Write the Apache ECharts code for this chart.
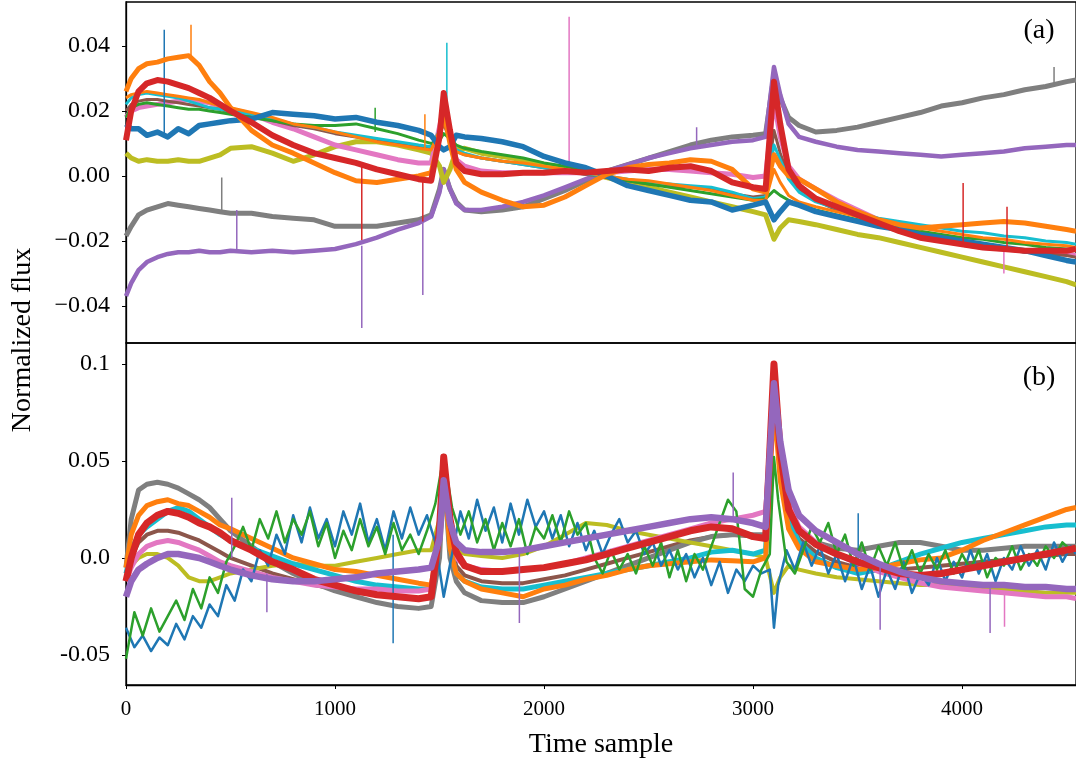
<!DOCTYPE html>
<html><head><meta charset="utf-8">
<script src="https://cdn.jsdelivr.net/npm/echarts@6/dist/echarts.min.js"></script>
<style>html,body{margin:0;padding:0;background:#fff}#c{width:1076px;height:761px}</style>
</head><body><div id="c"></div>
<script>
// shared time-sample grid (x values)
const X = [0,25,60,100,150,200,250,300,350,400,
450,500,600,700,800,900,1000,1100,1200,1300,
1400,1460,1500,1520,1550,1580,1620,1700,1800,1900,
2000,2100,2200,2300,2400,2500,2600,2700,2800,2900,
3000,3060,3100,3130,3170,3220,3300,3400,3500,3600,
3700,3800,3900,4000,4100,4200,4300,4400,4500,4545];
// finer grid used for the two noisiest traces of panel (b)
const XF = [0,40,80,120,160,200,240,280,320,360,
400,440,480,520,560,600,640,680,720,760,
800,840,880,920,960,1000,1040,1080,1120,1160,
1200,1240,1280,1320,1360,1400,1440,1480,1520,1560,
1600,1640,1680,1720,1760,1800,1840,1880,1920,1960,
2000,2040,2080,2120,2160,2200,2240,2280,2320,2360,
2400,2440,2480,2520,2560,2600,2640,2680,2720,2760,
2800,2840,2880,2920,2960,3000,3040,3080,3100,3120,
3160,3200,3240,3280,3320,3360,3400,3440,3480,3520,
3560,3600,3640,3680,3720,3760,3800,3840,3880,3920,
3960,4000,4040,4080,4120,4160,4200,4240,4280,4320,
4360,4400,4440,4480,4520,4545];

const xTicks = [0,1000,2000,3000,4000];
const xTickLabels = ['0','1000','2000','3000','4000'];
const yTicksA = [-0.04,-0.02,0,0.02,0.04];
const yTickLabelsA = ['\u22120.04','\u22120.02','0.00','0.02','0.04'];
const yTicksB = [-0.05,0,0.05,0.1];
const yTickLabelsB = ['-0.05','0.0','0.05','0.1'];

// ---- panel (a) ----
const a_gray = [-0.0185,-0.0155,-0.012,-0.0105,-0.0095,-0.0085,-0.009,-0.0095,-0.01,-0.0105,
-0.011,-0.0115,-0.0115,-0.0125,-0.013,-0.0135,-0.0155,-0.0155,-0.0155,-0.0145,
-0.0135,-0.012,-0.004,0.002,-0.004,-0.008,-0.0105,-0.011,-0.0105,-0.0095,
-0.007,-0.0045,-0.0015,0.0015,0.0035,0.0055,0.0075,0.0095,0.011,0.012,
0.0125,0.013,0.031,0.024,0.018,0.0155,0.0135,0.014,0.015,0.0165,
0.018,0.0195,0.0215,0.0225,0.024,0.025,0.0265,0.0275,0.029,0.0295];
const a_purple = [-0.037,-0.033,-0.029,-0.0265,-0.025,-0.024,-0.0235,-0.0235,-0.023,-0.0235,
-0.0235,-0.023,-0.0235,-0.023,-0.0235,-0.023,-0.0225,-0.021,-0.019,-0.0165,
-0.0145,-0.0125,-0.005,0.002,-0.004,-0.0085,-0.0105,-0.0105,-0.0095,-0.008,
-0.006,-0.0035,-0.001,0.0015,0.0035,0.0055,0.007,0.0085,0.0095,0.0105,
0.011,0.012,0.0335,0.025,0.016,0.012,0.0105,0.009,0.008,0.0075,
0.007,0.0065,0.006,0.0065,0.007,0.0075,0.0085,0.009,0.0095,0.0095];
const a_olive = [0.007,0.0055,0.0045,0.005,0.0045,0.0045,0.005,0.0045,0.0045,0.0055,
0.0065,0.0085,0.009,0.007,0.0045,0.0065,0.009,0.0105,0.0105,0.0095,
0.008,0.007,0.003,-0.002,0.002,0.008,0.0085,0.007,0.006,0.005,
0.0035,0.002,0.001,-0.0005,-0.002,-0.0035,-0.005,-0.0065,-0.008,-0.0095,
-0.011,-0.012,-0.0195,-0.016,-0.0135,-0.014,-0.015,-0.0165,-0.018,-0.019,
-0.0205,-0.022,-0.0235,-0.025,-0.0265,-0.028,-0.0295,-0.031,-0.0325,-0.0335];
const a_pink = [0.018,0.02,0.021,0.0215,0.022,0.0225,0.023,0.0235,0.023,0.0225,
0.0215,0.0205,0.019,0.0165,0.0145,0.012,0.0095,0.008,0.0065,0.005,
0.004,0.004,0.015,0.021,0.012,0.005,0.003,0.0015,0.001,0.001,
0.001,0.001,0.001,0.001,0.0015,0.002,0.002,0.0015,0.001,0.0005,
-0.0005,0.0,0.023,0.012,0.003,-0.001,-0.004,-0.0075,-0.0105,-0.0135,
-0.016,-0.018,-0.0195,-0.021,-0.022,-0.0225,-0.023,-0.0235,-0.024,-0.0245];
const a_brown = [0.02,0.022,0.023,0.0235,0.0235,0.023,0.0225,0.022,0.0215,0.021,
0.0205,0.0195,0.0185,0.017,0.0155,0.0145,0.013,0.012,0.011,0.01,
0.009,0.0085,0.013,0.016,0.011,0.0075,0.0065,0.0055,0.0045,0.0035,
0.0025,0.0015,0.0005,-0.0005,-0.0015,-0.0025,-0.003,-0.0035,-0.004,-0.0055,
-0.0065,-0.006,0.014,0.007,0.0,-0.004,-0.0075,-0.0105,-0.0125,-0.0145,
-0.016,-0.0175,-0.019,-0.0205,-0.0215,-0.0225,-0.0235,-0.024,-0.0245,-0.025];
const a_cyan = [0.022,0.024,0.025,0.0255,0.025,0.0245,0.024,0.023,0.022,0.021,
0.0205,0.02,0.019,0.0175,0.016,0.015,0.0135,0.0125,0.0115,0.0105,
0.0095,0.009,0.014,0.018,0.012,0.008,0.007,0.0055,0.0045,0.0035,
0.0025,0.0015,0.0005,0.0,-0.001,-0.002,-0.0025,-0.003,-0.0035,-0.005,
-0.007,-0.0065,0.0095,0.005,-0.001,-0.005,-0.008,-0.01,-0.0115,-0.013,
-0.014,-0.015,-0.016,-0.017,-0.0175,-0.0185,-0.019,-0.02,-0.0205,-0.021];
const a_green = [0.018,0.021,0.022,0.0225,0.022,0.0215,0.021,0.0205,0.0205,0.02,
0.0195,0.019,0.018,0.017,0.016,0.0155,0.0155,0.016,0.0145,0.013,
0.011,0.01,0.011,0.013,0.0115,0.0095,0.0085,0.0075,0.0065,0.0055,
0.004,0.003,0.0015,0.0,-0.0015,-0.0025,-0.0035,-0.0045,-0.0055,-0.0065,
-0.0075,-0.007,-0.0045,-0.006,-0.0075,-0.009,-0.0105,-0.012,-0.0135,-0.015,
-0.016,-0.017,-0.018,-0.019,-0.0195,-0.0205,-0.021,-0.022,-0.0225,-0.023];
const a_orange2 = [0.024,0.025,0.0255,0.026,0.0255,0.025,0.0245,0.024,0.0235,0.0225,
0.0215,0.021,0.0195,0.018,0.016,0.015,0.0135,0.012,0.0105,0.0095,
0.0085,0.008,0.014,0.017,0.011,0.0075,0.0065,0.0055,0.0045,0.004,
0.003,0.002,0.001,0.0,-0.001,-0.0015,-0.0025,-0.0035,-0.0045,-0.006,
-0.0075,-0.0075,0.002,-0.002,-0.006,-0.008,-0.0095,-0.011,-0.0125,-0.0135,
-0.015,-0.016,-0.017,-0.018,-0.019,-0.0195,-0.0205,-0.021,-0.0215,-0.022];
const a_blue = [0.016,0.0145,0.0145,0.0125,0.0135,0.012,0.0145,0.013,0.0155,0.016,
0.0165,0.017,0.0175,0.0195,0.019,0.0185,0.0175,0.018,0.0165,0.0155,
0.014,0.0125,0.009,0.008,0.009,0.0125,0.012,0.0115,0.0105,0.009,
0.006,0.004,0.0025,0.0,-0.003,-0.0045,-0.006,-0.0075,-0.008,-0.0105,
-0.009,-0.008,-0.0135,-0.011,-0.008,-0.009,-0.011,-0.0125,-0.014,-0.0155,
-0.0165,-0.018,-0.019,-0.02,-0.021,-0.022,-0.023,-0.0245,-0.026,-0.0265];
const a_orange = [0.026,0.03,0.033,0.0345,0.035,0.036,0.0365,0.037,0.034,0.029,
0.0255,0.021,0.014,0.0095,0.007,0.004,0.001,-0.0015,-0.002,-0.001,
0.0,0.001,0.012,0.02,0.01,0.002,-0.002,-0.005,-0.0075,-0.0095,
-0.009,-0.0065,-0.003,0.0005,0.0025,0.0035,0.004,0.005,0.0045,0.002,
-0.004,-0.005,0.0065,0.003,0.0,-0.001,-0.004,-0.008,-0.011,-0.0135,
-0.015,-0.016,-0.0155,-0.015,-0.0145,-0.014,-0.0145,-0.0155,-0.0165,-0.017];
const a_red = [0.011,0.02,0.026,0.0285,0.0295,0.029,0.028,0.027,0.0255,0.024,
0.022,0.02,0.0165,0.0125,0.0095,0.007,0.0055,0.004,0.002,0.0005,
-0.001,-0.0015,0.012,0.0255,0.014,0.004,0.0015,0.0005,0.0005,0.001,
0.001,0.0015,0.001,0.0015,0.002,0.0015,0.0025,0.003,0.0015,-0.002,
-0.0035,-0.004,0.029,0.016,0.002,-0.003,-0.007,-0.0095,-0.012,-0.0145,
-0.017,-0.019,-0.02,-0.021,-0.022,-0.0225,-0.023,-0.023,-0.023,-0.0225];

// single-sample glitches in panel (a): [sample, from, to]
const a_spikes_blue = [[183,0.013,0.045]];
const a_spikes_orange = [[311,0.037,0.0465],[1430,0.0085,0.019]];
const a_spikes_gray = [[458,-0.011,-0.0005],[4440,0.028,0.0335]];
const a_spikes_purple = [[530,-0.0235,-0.0105],[1128,-0.0215,-0.0468],[1420,-0.0145,-0.0366],[2730,0.0085,0.015]];
const a_spikes_red = [[1128,0.004,-0.0197],[1420,-0.001,-0.014],[4005,-0.021,-0.0022],[4215,-0.0225,-0.0095]];
const a_spikes_green = [[1192,0.0135,0.021]];
const a_spikes_cyan = [[1535,0.018,0.041]];
const a_spikes_pink = [[2120,0.001,0.049],[4200,-0.0225,-0.030]];

// ---- panel (b) ----
const b_brown = [-0.01,0.0,0.008,0.012,0.014,0.014,0.013,0.011,0.009,0.006,
0.003,0.0,-0.004,-0.008,-0.011,-0.014,-0.016,-0.018,-0.019,-0.02,
-0.021,-0.02,0.01,0.045,0.01,-0.004,-0.009,-0.012,-0.013,-0.013,
-0.011,-0.009,-0.006,-0.003,0.0,0.003,0.006,0.009,0.011,0.012,
0.011,0.01,0.085,0.045,0.02,0.01,0.003,-0.002,-0.005,-0.006,
-0.006,-0.005,-0.004,-0.003,-0.002,-0.001,0.0,0.001,0.002,0.002];
const b_gray = [-0.005,0.02,0.035,0.038,0.039,0.038,0.036,0.033,0.03,0.026,
0.02,0.014,0.006,-0.002,-0.008,-0.013,-0.017,-0.02,-0.023,-0.025,
-0.026,-0.025,0.0,0.045,0.0,-0.012,-0.018,-0.022,-0.023,-0.023,
-0.02,-0.016,-0.012,-0.008,-0.004,0.0,0.004,0.008,0.011,0.012,
0.012,0.012,0.095,0.05,0.025,0.014,0.008,0.005,0.004,0.006,
0.008,0.008,0.006,0.004,0.004,0.005,0.006,0.006,0.006,0.006];
const b_olive = [-0.01,-0.004,0.0,0.002,0.002,0.0,-0.004,-0.01,-0.012,-0.012,
-0.01,-0.008,-0.006,-0.004,-0.003,-0.004,-0.004,-0.002,0.0,0.002,
0.004,0.004,0.02,0.04,0.01,0.004,0.002,0.001,0.0,0.002,
0.006,0.012,0.018,0.017,0.014,0.012,0.01,0.008,0.006,0.004,
0.002,0.0,-0.018,-0.01,-0.004,-0.006,-0.008,-0.01,-0.011,-0.012,
-0.013,-0.014,-0.014,-0.015,-0.016,-0.016,-0.017,-0.018,-0.018,-0.018];
const b_cyan = [-0.008,0.004,0.012,0.016,0.02,0.024,0.026,0.024,0.02,0.016,
0.012,0.009,0.005,0.001,-0.003,-0.006,-0.009,-0.012,-0.014,-0.015,
-0.016,-0.016,0.01,0.045,0.005,-0.008,-0.012,-0.015,-0.016,-0.016,
-0.014,-0.012,-0.01,-0.008,-0.006,-0.004,-0.002,0.0,0.003,0.004,
0.002,0.004,0.095,0.05,0.02,0.008,0.0,-0.005,-0.008,-0.006,
-0.002,0.002,0.005,0.008,0.01,0.012,0.014,0.016,0.017,0.017];
const b_pink = [-0.012,-0.005,0.002,0.006,0.008,0.009,0.008,0.006,0.004,0.001,
-0.002,-0.004,-0.007,-0.01,-0.012,-0.014,-0.015,-0.016,-0.016,-0.017,
-0.017,-0.016,0.01,0.042,0.012,0.0,-0.004,-0.006,-0.007,-0.006,
-0.005,-0.003,0.0,0.003,0.006,0.009,0.012,0.015,0.018,0.02,
0.022,0.024,0.085,0.05,0.028,0.016,0.008,0.002,-0.003,-0.007,
-0.01,-0.013,-0.015,-0.016,-0.017,-0.018,-0.019,-0.02,-0.02,-0.021];
const b_orange = [-0.005,0.012,0.022,0.027,0.029,0.03,0.028,0.027,0.024,0.021,
0.017,0.015,0.01,0.005,0.0,-0.003,-0.006,-0.007,-0.009,-0.011,
-0.013,-0.014,0.01,0.045,0.005,-0.008,-0.012,-0.016,-0.018,-0.02,
-0.016,-0.014,-0.011,-0.009,-0.006,-0.004,-0.003,-0.002,-0.001,-0.0015,
-0.002,0.0,0.08,0.04,0.015,0.005,-0.002,-0.004,-0.006,-0.005,
-0.003,-0.001,0.0,0.004,0.009,0.013,0.017,0.021,0.025,0.026];
const b_blue = [-0.036,-0.046,-0.04,-0.048,-0.041,-0.045,-0.034,-0.042,-0.03,-0.036,
-0.024,-0.03,-0.014,-0.022,-0.006,-0.012,0.004,-0.004,0.012,0.002,
0.022,0.008,0.026,0.01,0.02,0.006,0.024,0.012,0.028,0.008,
0.02,0.004,0.024,0.01,0.026,0.012,0.022,0.008,-0.02,0.002,
0.024,0.01,0.03,0.014,0.026,0.008,0.028,0.012,0.03,0.016,
0.024,0.01,0.022,0.006,0.018,0.004,0.014,0.002,0.012,0.02,
0.008,0.014,0.002,0.008,-0.004,0.004,-0.006,0.002,-0.01,0.0,
-0.014,-0.002,-0.018,-0.006,-0.012,-0.004,-0.008,-0.006,-0.036,-0.014,
0.004,-0.006,0.008,-0.004,0.006,-0.008,0.002,-0.012,0.0,-0.016,
-0.004,-0.02,-0.006,-0.016,-0.002,-0.018,-0.008,-0.014,0.0,-0.012,
-0.002,-0.01,0.004,-0.008,0.002,-0.012,0.0,-0.006,0.006,-0.004,
0.004,-0.006,0.008,-0.002,0.006,0.002];
const b_green = [-0.052,-0.028,-0.04,-0.026,-0.038,-0.03,-0.022,-0.032,-0.016,-0.026,
-0.01,-0.018,-0.002,0.006,0.016,0.004,0.02,0.01,0.024,0.008,
0.02,0.012,0.024,0.006,0.018,0.0,0.014,0.004,0.02,0.006,
0.016,0.002,0.018,0.004,0.012,0.002,0.014,0.028,0.053,0.026,
0.012,0.024,0.008,0.02,0.004,0.018,0.006,0.02,0.002,0.016,
0.01,0.022,0.008,0.024,0.012,0.018,0.0,-0.008,0.004,-0.006,
0.002,-0.008,0.006,-0.004,0.008,-0.01,0.004,-0.012,0.002,-0.006,
0.006,0.018,0.03,0.024,-0.016,-0.02,-0.006,0.002,0.052,0.03,
-0.002,-0.008,0.004,0.016,0.008,0.018,0.002,0.012,-0.004,0.008,
-0.006,0.006,-0.004,0.008,-0.006,0.004,-0.008,0.002,-0.006,0.004,
-0.008,0.002,-0.006,0.004,-0.01,0.0,-0.004,0.006,-0.006,0.002,
-0.004,0.006,0.0,0.008,0.004,0.006];
const b_red = [-0.012,0.0,0.012,0.018,0.022,0.024,0.023,0.021,0.018,0.016,
0.013,0.009,0.004,-0.002,-0.006,-0.011,-0.014,-0.017,-0.019,-0.02,
-0.021,-0.02,0.015,0.052,0.02,0.003,-0.004,-0.007,-0.007,-0.006,
-0.005,-0.003,-0.001,0.002,0.005,0.008,0.011,0.014,0.016,0.015,
0.011,0.01,0.1,0.055,0.025,0.014,0.007,0.002,-0.002,-0.005,
-0.008,-0.009,-0.008,-0.006,-0.004,-0.002,0.0,0.002,0.004,0.005];
const b_purple = [-0.02,-0.012,-0.006,-0.003,0.0,0.002,0.002,0.001,0.0,-0.002,
-0.004,-0.006,-0.009,-0.011,-0.012,-0.012,-0.011,-0.01,-0.008,-0.007,
-0.006,-0.005,0.01,0.04,0.018,0.008,0.004,0.003,0.003,0.004,
0.006,0.008,0.01,0.012,0.014,0.016,0.018,0.02,0.021,0.02,
0.018,0.016,0.09,0.06,0.035,0.022,0.014,0.008,0.002,-0.003,
-0.007,-0.01,-0.012,-0.013,-0.014,-0.014,-0.015,-0.015,-0.016,-0.016];

const b_spikes_purple = [[506,0.0,0.031],[674,-0.008,-0.028],[1882,0.004,-0.0335],[2905,0.02,0.044],[3608,-0.004,-0.037],[4134,-0.014,-0.0387]];
const b_spikes_blue = [[1278,0.012,-0.044],[3503,-0.004,0.023]];
const b_spikes_pink = [[4203,-0.018,-0.0355]];

const C = {blue:'#1f77b4',orange:'#ff7f0e',green:'#2ca02c',red:'#d62728',purple:'#9467bd',
  brown:'#8c564b',pink:'#e377c2',gray:'#7f7f7f',olive:'#bcbd22',cyan:'#17becf'};

const series = [];
function addLine(panel, xs, vals, color, width){
  series.push({type:'line', xAxisIndex:panel, yAxisIndex:panel, data:xs.map((x,i)=>[x,vals[i]]),
    showSymbol:false, symbol:'none', silent:true, animation:false,
    lineStyle:{color:color, width:width, join:'round'}});
}
function addSpikes(panel, spikes, color){
  spikes.forEach(s=>{
    series.push({type:'line', xAxisIndex:panel, yAxisIndex:panel, data:[[s[0],s[1]],[s[0],s[2]]],
      showSymbol:false, symbol:'none', silent:true, animation:false,
      lineStyle:{color:color, width:1.5}});
  });
}
// panel a, back to front
addLine(0,X,a_gray,C.gray,5); addSpikes(0,a_spikes_gray,C.gray);
addLine(0,X,a_purple,C.purple,4.5); addSpikes(0,a_spikes_purple,C.purple);
addLine(0,X,a_olive,C.olive,5);
addLine(0,X,a_pink,C.pink,5); addSpikes(0,a_spikes_pink,C.pink);
addLine(0,X,a_brown,C.brown,3);
addLine(0,X,a_cyan,C.cyan,3); addSpikes(0,a_spikes_cyan,C.cyan);
addLine(0,X,a_green,C.green,3); addSpikes(0,a_spikes_green,C.green);
addLine(0,X,a_orange2,C.orange,3);
addLine(0,X,a_blue,C.blue,5.5); addSpikes(0,a_spikes_blue,C.blue);
addLine(0,X,a_orange,C.orange,5); addSpikes(0,a_spikes_orange,C.orange);
addLine(0,X,a_red,C.red,6); addSpikes(0,a_spikes_red,C.red);
// panel b
addLine(1,X,b_brown,C.brown,4);
addLine(1,X,b_gray,C.gray,5);
addLine(1,X,b_olive,C.olive,4);
addLine(1,X,b_cyan,C.cyan,5);
addLine(1,X,b_pink,C.pink,5); addSpikes(1,b_spikes_pink,C.pink);
addLine(1,X,b_orange,C.orange,5);
addLine(1,XF,b_blue,C.blue,2.5); addSpikes(1,b_spikes_blue,C.blue);
addLine(1,XF,b_green,C.green,2.5);
addLine(1,X,b_red,C.red,7);
addLine(1,X,b_purple,C.purple,6.5); addSpikes(1,b_spikes_purple,C.purple);

function lab(ticks, labels){ return v => { const i = ticks.findIndex(t=>Math.abs(t-v)<1e-9); return i<0?'':labels[i]; }; }
const yLabelStyle = {color:'#000', fontFamily:'Liberation Serif', fontSize:24, margin:16};

const chart = echarts.init(document.getElementById('c'), null, {renderer:'canvas'});
chart.setOption({
  animation:false,
  backgroundColor:'#fff',
  grid:[
    {left:126, top:2, width:951, height:341, show:true, borderColor:'#000', borderWidth:1.3, backgroundColor:'transparent'},
    {left:126, top:343, width:951, height:342, show:true, borderColor:'#000', borderWidth:1.3, backgroundColor:'transparent'}
  ],
  xAxis:[
    {gridIndex:0, type:'value', min:0, max:4545, axisLine:{show:false}, axisTick:{show:false}, axisLabel:{show:false}, splitLine:{show:false}},
    {gridIndex:1, type:'value', min:0, max:4545, axisLine:{show:true, onZero:false, lineStyle:{color:'#000', width:1.3}},
     axisTick:{show:true, inside:false, length:4, customValues:xTicks, lineStyle:{color:'#000', width:1}},
     axisLabel:{show:true, customValues:xTicks, formatter:lab(xTicks,xTickLabels), color:'#000', fontFamily:'Liberation Serif', fontSize:21, margin:14},
     splitLine:{show:false},
     name:'Time sample', nameLocation:'middle', nameGap:46,
     nameTextStyle:{color:'#000', fontFamily:'Liberation Serif', fontSize:28}}
  ],
  yAxis:[
    {gridIndex:0, type:'value', min:-0.0514, max:0.0535,
     axisLine:{show:true, onZero:false, lineStyle:{color:'#000', width:1.3}},
     axisTick:{show:true, inside:false, length:4, customValues:yTicksA, lineStyle:{color:'#000', width:1}},
     axisLabel:Object.assign({customValues:yTicksA, formatter:lab(yTicksA,yTickLabelsA)}, yLabelStyle),
     splitLine:{show:false}},
    {gridIndex:1, type:'value', min:-0.0655, max:0.1108,
     axisLine:{show:true, onZero:false, lineStyle:{color:'#000', width:1.3}},
     axisTick:{show:true, inside:false, length:4, customValues:yTicksB, lineStyle:{color:'#000', width:1}},
     axisLabel:Object.assign({customValues:yTicksB, formatter:lab(yTicksB,yTickLabelsB)}, yLabelStyle),
     splitLine:{show:false}}
  ],
  graphic:[
    {type:'text', x:23, y:340, rotation:Math.PI/2, style:{text:'Normalized flux', fontFamily:'Liberation Serif', fontSize:28, fill:'#000', align:'center', verticalAlign:'middle'}},
    {type:'text', x:1039, y:31, style:{text:'(a)', fontFamily:'Liberation Serif', fontSize:28, fill:'#000', align:'center', verticalAlign:'middle'}},
    {type:'text', x:1039, y:378, style:{text:'(b)', fontFamily:'Liberation Serif', fontSize:28, fill:'#000', align:'center', verticalAlign:'middle'}}
  ],
  series:series
});
</script></body></html>
